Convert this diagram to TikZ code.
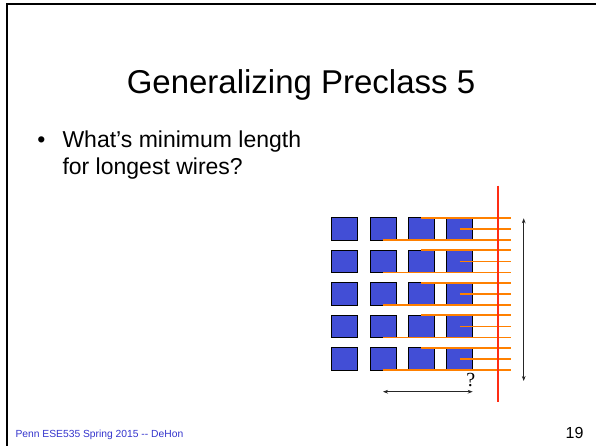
\documentclass[tikz,border=0pt]{standalone}
\usepackage{fontspec}
\setmainfont{Liberation Sans}
\newfontfamily\qfont{Liberation Serif}
\usepackage{xcolor}
\usetikzlibrary{arrows.meta, positioning}
\definecolor{cellblue}{RGB}{66,78,214}
\definecolor{wireorange}{RGB}{255,128,0}
\definecolor{cutred}{RGB}{255,45,20}
\definecolor{footblue}{RGB}{51,51,204}

\begin{document}
\begin{tikzpicture}[
        x=1pt, y=-1pt,
        cell/.style={draw=black, line width=1pt, fill=cellblue, minimum width=26pt, minimum height=22.3pt, inner sep=0pt, outer sep=0pt},
        wire/.style={wireorange, line width=1.6pt},
        dim/.style={black!85, line width=0.8pt, {Stealth[length=5pt]}-{Stealth[length=5pt]}}
    ]
    \useasboundingbox (0,0) rectangle (596,446);

    % Rahmen
    \draw[line width=2pt] (7,446) -- (7,4) -- (596,4);

    % Titel und Frage
    \node[anchor=base, font=\fontsize{33}{38}\selectfont] (titel) at (301,94) {Generalizing Preclass 5};
    \node[anchor=base, font=\fontsize{23}{27}\selectfont] (punkt) at (41.5,148) {•};
    \node[anchor=base west, font=\fontsize{23}{27}\selectfont] (frage1) at (59,148) {What’s minimum length};
    \node[anchor=base west, font=\fontsize{23}{27}\selectfont] (frage2) at ([yshift=-27pt]frage1.base west) {for longest wires?};

    % Zellen
    \foreach \r in {0,...,4}
        \foreach \c in {0,...,3}
            \node[cell] (c-\r-\c) at (344.7+38.33*\c, 228.85+32.5*\r) {};

    % Leitungen
    \coordinate (wend) at (511,0);
    \foreach \r in {0,...,4} {
        \draw[wire] (c-\r-2.north) -- (c-\r-2.north -| wend);
        \draw[wire] (c-\r-3.center) -- (c-\r-3.center -| wend);
        \draw[wire] (c-\r-1.south) -- (c-\r-1.south -| wend);
    }

    % Schnitt
    \coordinate (cuttop) at (498,185.7);
    \coordinate (cutbot) at (498,401.7);
    \draw[cutred, line width=2.2pt] (cuttop) -- (cutbot);

    % Hoehe
    \coordinate (htop) at (523.7,218.3);
    \coordinate (hbot) at (523.7,381);
    \draw[dim] (htop) -- (hbot);

    % Laenge
    \coordinate (lleft) at (c-4-1.center |- 0,391.7);
    \coordinate (lright) at (c-4-3.east |- 0,391.7);
    \draw[dim] (lleft) -- (lright);
    \node[font=\qfont\fontsize{20}{22}\selectfont] (frag) at (470.7,380) {?};

    % Fusszeile
    \node[anchor=base west, text=footblue, font=\fontsize{10.3}{12}\selectfont] (fuss) at (12,437.5) {Penn ESE535 Spring 2015 -{}- DeHon};
    \node[anchor=base east, font=\fontsize{16}{18}\selectfont] (seite) at (587,438) {19};
\end{tikzpicture}
\end{document}
